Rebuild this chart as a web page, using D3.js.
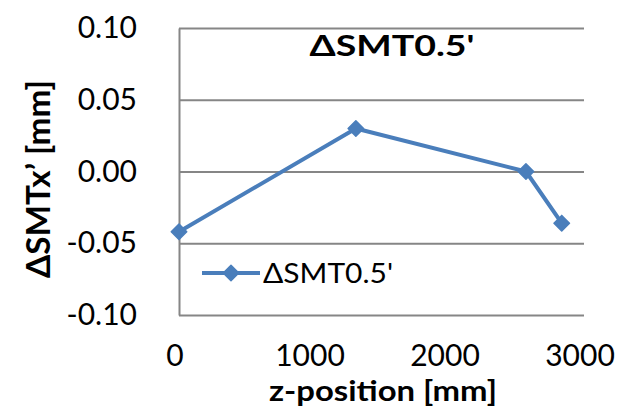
<!DOCTYPE html>
<html>
<head>
<meta charset="utf-8">
<script src="https://cdn.jsdelivr.net/npm/d3@7"></script>
<style>
  html, body { margin: 0; padding: 0; background: #fff; }
  svg { display: block; }
  text { font-family: Lato, "Liberation Sans", Arial, sans-serif; fill: #000; }
</style>
</head>
<body>
<svg id="chart" width="637" height="408"></svg>
<script>
// z-position along the magnet [mm] and the measured ΔSMTx' deviation [mm]
const zPosition = [0, 1310, 2570, 2835];
const dSMT = [-0.042, 0.030, 0.000, -0.036];

const seriesName = "ΔSMT0.5'";
const chartTitle = "ΔSMT0.5'";
const xTitle = "z-position [mm]";
const yTitle = "ΔSMTx’ [mm]";

const xTicks = [0, 1000, 2000, 3000];
const yTicks = [-0.10, -0.05, 0.00, 0.05, 0.10];

const svg = d3.select("#chart");
const plot = { left: 179, right: 584, top: 28, bottom: 315 };
const lineColor = "#4A7EBB";
const gridColor = "#868686";
const fontStack = "Lato, 'Liberation Sans', Arial, sans-serif";

const x = d3.scaleLinear().domain([0, 3000]).range([plot.left, plot.right]);
const y = d3.scaleLinear().domain([-0.10, 0.10]).range([plot.bottom, plot.top]);

// two decimals with a plain hyphen for negatives
const fmt2 = d => d3.format(".2f")(d).replace("\u2212", "-");

// Horizontal gridlines + value axis labels; the domain path is the left axis line
const yAxis = svg.append("g")
  .attr("transform", `translate(${plot.left},0)`)
  .call(d3.axisLeft(y)
    .tickValues(yTicks)
    .tickFormat(fmt2)
    .tickSizeInner(-(plot.right - plot.left))
    .tickSizeOuter(0)
    .tickPadding(42));
yAxis.select(".domain").attr("stroke", gridColor).attr("stroke-width", 2);
yAxis.selectAll(".tick line").attr("stroke", gridColor).attr("stroke-width", 2);
yAxis.selectAll(".tick text")
  .style("font-size", "30px")
  .style("font-family", fontStack)
  .attr("fill", "#000");

// Category (z) axis labels only
const xAxis = svg.append("g")
  .attr("transform", `translate(0,${plot.bottom})`)
  .call(d3.axisBottom(x)
    .tickValues(xTicks)
    .tickFormat(d3.format("d"))
    .tickSize(0)
    .tickPadding(30));
xAxis.select(".domain").remove();
xAxis.selectAll(".tick text")
  .attr("dx", -4.5)
  .style("font-size", "30px")
  .style("font-family", fontStack)
  .attr("fill", "#000");

// Series line
const pts = zPosition.map((z, i) => [z, dSMT[i]]);
svg.append("path")
  .datum(pts)
  .attr("fill", "none")
  .attr("stroke", lineColor)
  .attr("stroke-width", 4)
  .attr("stroke-linejoin", "round")
  .attr("d", d3.line().x(d => x(d[0])).y(d => y(d[1])));

// Diamond markers
const diamond = d3.symbol().type(d3.symbolSquare).size(120);
svg.append("g").selectAll("path")
  .data(pts)
  .join("path")
  .attr("d", diamond)
  .attr("fill", lineColor)
  .attr("stroke", lineColor)
  .attr("stroke-width", 1.5)
  .attr("stroke-linejoin", "round")
  .attr("transform", d => `translate(${x(d[0])},${y(d[1])}) rotate(45)`);

// Chart title
svg.append("text")
  .attr("x", 392).attr("y", 56)
  .attr("text-anchor", "middle")
  .attr("textLength", 165)
  .attr("lengthAdjust", "spacingAndGlyphs")
  .style("font-size", "29px")
  .style("font-weight", "bold")
  .text(chartTitle);

// Legend inside the plot area
const leg = svg.append("g");
leg.append("line")
  .attr("x1", 202).attr("x2", 260).attr("y1", 273).attr("y2", 273)
  .attr("stroke", lineColor).attr("stroke-width", 4);
leg.append("path")
  .attr("d", diamond)
  .attr("fill", lineColor)
  .attr("stroke", lineColor)
  .attr("stroke-width", 1.5)
  .attr("stroke-linejoin", "round")
  .attr("transform", "translate(231,273) rotate(45)");
leg.append("text")
  .attr("x", 263).attr("y", 283)
  .attr("textLength", 130)
  .attr("lengthAdjust", "spacingAndGlyphs")
  .style("font-size", "26px")
  .text(seriesName);

// Axis titles
svg.append("text")
  .attr("transform", "translate(50,179) rotate(-90)")
  .attr("text-anchor", "middle")
  .attr("textLength", 198)
  .attr("lengthAdjust", "spacingAndGlyphs")
  .style("font-size", "32px")
  .style("font-weight", "bold")
  .text(yTitle);

svg.append("text")
  .attr("x", 383).attr("y", 401)
  .attr("text-anchor", "middle")
  .attr("textLength", 228)
  .attr("lengthAdjust", "spacingAndGlyphs")
  .style("font-size", "29px")
  .style("font-weight", "bold")
  .text(xTitle);
</script>
</body>
</html>
